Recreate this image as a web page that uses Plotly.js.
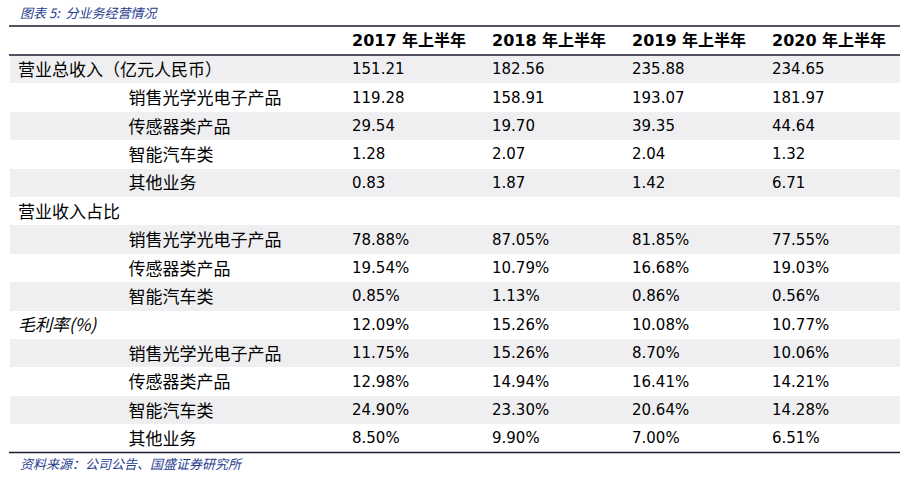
<!DOCTYPE html>
<html>
<head>
<meta charset="utf-8">
<script src="https://cdn.plot.ly/plotly-3.0.1.min.js"></script>
<style>
html,body{margin:0;padding:0;background:#fff;}
#chart{width:907px;height:480px;}
</style>
</head>
<body>
<div id="chart"></div>
<script>
// ---- data ----
const titleText = '图表 5:  分业务经营情况';
const sourceText = '资料来源：公司公告、国盛证券研究所';
const periods = ['2017 年上半年', '2018 年上半年', '2019 年上半年', '2020 年上半年'];
const rowLabels = [
  '营业总收入（亿元人民币）',
  '销售光学光电子产品',
  '传感器类产品',
  '智能汽车类',
  '其他业务',
  '营业收入占比',
  '销售光学光电子产品',
  '传感器类产品',
  '智能汽车类',
  '毛利率(%)',
  '销售光学光电子产品',
  '传感器类产品',
  '智能汽车类',
  '其他业务'
];
const rowLevel = [0,1,1,1,1,0,1,1,1,0,1,1,1,1];
const rowItalic = [0,0,0,0,0,0,0,0,0,1,0,0,0,0];
const v2017 = ['151.21','119.28','29.54','1.28','0.83','','78.88%','19.54%','0.85%','12.09%','11.75%','12.98%','24.90%','8.50%'];
const v2018 = ['182.56','158.91','19.70','2.07','1.87','','87.05%','10.79%','1.13%','15.26%','15.26%','14.94%','23.30%','9.90%'];
const v2019 = ['235.88','193.07','39.35','2.04','1.42','','81.85%','16.68%','0.86%','10.08%','8.70%','16.41%','20.64%','7.00%'];
const v2020 = ['234.65','181.97','44.64','1.32','6.71','','77.55%','19.03%','0.56%','10.77%','10.06%','14.21%','14.28%','6.51%'];

// ---- build ----
const W = 907, H = 480;
const indent = '\u3000\u3000\u3000\u3000\u3000\u3000\u2002';
const labels = rowLabels.map((t, i) => rowLevel[i] ? indent + t : t);
const rowFill = rowLabels.map((_, i) => i % 2 === 0 ? '#efeff1' : '#ffffff');
const nCols = 5;
const fillColors = Array.from({length: nCols}, () => rowFill);
const labelStyle = rowItalic.map(f => f ? 'italic' : 'normal');
const numStyle = rowItalic.map(() => 'normal');

const tableTop = 26, headerH = 29, rowH = 28.4;
const tableBottom = tableTop + headerH + rowH * rowLabels.length;

const trace = {
  type: 'table',
  domain: {x: [10 / W, 900 / W], y: [0, 1 - tableTop / H]},
  columnwidth: [334, 140, 140, 140, 136],
  header: {
    values: [''].concat(periods.map(p => p.replace(' ', '\u00a0'))),
    align: 'left',
    height: headerH,
    line: {width: 0, color: 'rgba(0,0,0,0)'},
    fill: {color: '#ffffff'},
    font: {family: 'DejaVu Sans, "Noto Sans CJK SC"', size: 16, color: '#000000', weight: 'bold'}
  },
  cells: {
    values: [labels, v2017, v2018, v2019, v2020],
    align: 'left',
    height: rowH,
    line: {width: 0, color: 'rgba(0,0,0,0)'},
    fill: {color: fillColors},
    font: {
      family: ['"Noto Sans CJK SC"', 'DejaVu Sans', 'DejaVu Sans', 'DejaVu Sans', 'DejaVu Sans'],
      size: [17, 15, 15, 15, 15],
      style: [labelStyle, numStyle, numStyle, numStyle, numStyle],
      color: '#000000'
    }
  }
};

const layout = {
  width: W, height: H,
  margin: {l: 0, r: 0, t: 0, b: 0},
  paper_bgcolor: '#ffffff',
  showlegend: false,
  shapes: [
    {type: 'rect', xref: 'paper', yref: 'paper', x0: 0, x1: 1, y0: 0, y1: 1 - tableBottom / H, fillcolor: '#ffffff', line: {width: 0}, layer: 'above'},
    {type: 'line', xref: 'paper', yref: 'paper', x0: 9 / W, x1: 900 / W, y0: 1 - tableTop / H, y1: 1 - tableTop / H, line: {color: '#1a1d33', width: 1.5}},
    {type: 'line', xref: 'paper', yref: 'paper', x0: 9 / W, x1: 900 / W, y0: 1 - (tableTop + headerH) / H, y1: 1 - (tableTop + headerH) / H, line: {color: '#1a1d33', width: 1.5}},
    {type: 'line', xref: 'paper', yref: 'paper', x0: 9 / W, x1: 900 / W, y0: 1 - tableBottom / H, y1: 1 - tableBottom / H, line: {color: '#1a1d33', width: 1.5}}
  ],
  annotations: [
    {text: '<i>' + titleText + '</i>', xref: 'paper', yref: 'paper', x: 18 / W, y: 1 - 12 / H, xanchor: 'left', yanchor: 'middle', showarrow: false,
     font: {family: '"Noto Sans CJK SC"', size: 13, color: '#1f3d8f'}},
    {text: '<i>' + sourceText + '</i>', xref: 'paper', yref: 'paper', x: 18 / W, y: 1 - 463 / H, xanchor: 'left', yanchor: 'middle', showarrow: false,
     font: {family: '"Noto Sans CJK SC"', size: 13, color: '#1f3d8f'}}
  ]
};

Plotly.newPlot('chart', [trace], layout, {displayModeBar: false, staticPlot: true});
</script>
</body>
</html>
